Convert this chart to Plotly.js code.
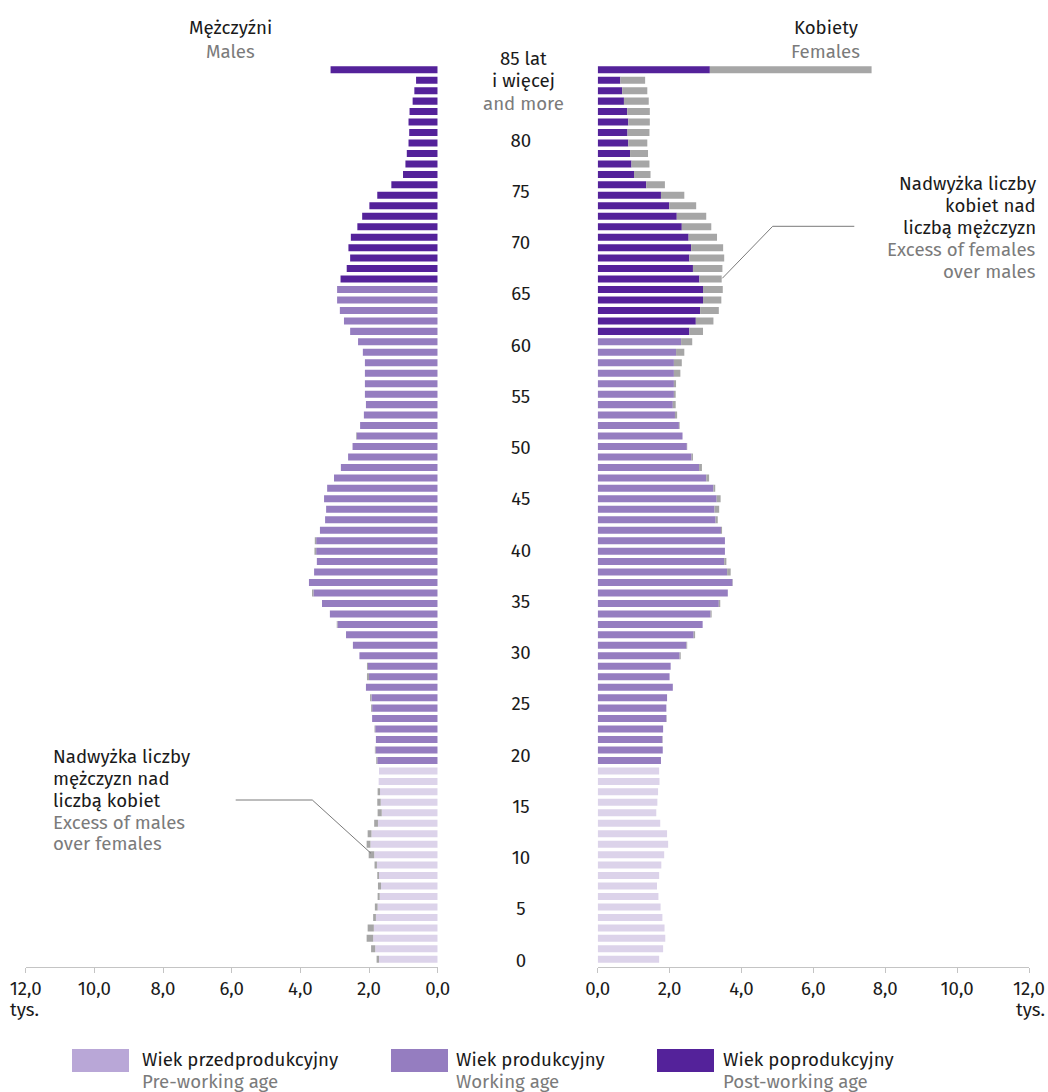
<!DOCTYPE html>
<html>
<head>
<meta charset="utf-8">
<script src="https://cdn.plot.ly/plotly-3.0.1.min.js"></script>
<style>html,body{margin:0;padding:0;background:#fff;}#chart{width:1048px;height:1092px;}</style>
</head>
<body>
<div id="chart"></div>
<script>
// ---------- DATA ----------
const ages = [0,1,2,3,4,5,6,7,8,9,10,11,12,13,14,15,16,17,18,19,20,21,22,23,24,25,26,27,28,29,
  30,31,32,33,34,35,36,37,38,39,40,41,42,43,44,45,46,47,48,49,50,51,52,53,54,55,56,57,58,59,
  60,61,62,63,64,65,66,67,68,69,70,71,72,73,74,75,76,77,78,79,80,81,82,83,84,85];

// thousands of persons, age 0 .. 85+ (last = 85 and more)
const males = [1.78,1.94,2.07,2.04,1.88,1.83,1.75,1.74,1.76,1.84,
  2.01,2.07,2.04,1.85,1.75,1.76,1.75,1.72,1.71,1.79,
  1.83,1.80,1.84,1.91,1.94,1.97,2.09,2.06,2.06,2.28,
  2.47,2.67,2.94,3.14,3.37,3.66,3.75,3.60,3.52,3.59,
  3.58,3.43,3.28,3.25,3.31,3.22,3.02,2.82,2.61,2.48,
  2.38,2.26,2.15,2.09,2.12,2.12,2.12,2.12,2.18,2.32,
  2.55,2.73,2.85,2.93,2.93,2.83,2.65,2.55,2.60,2.53,
  2.34,2.20,1.99,1.76,1.35,1.01,0.94,0.90,0.85,0.83,
  0.85,0.82,0.73,0.68,0.63,3.12];

const females = [1.71,1.82,1.88,1.86,1.80,1.75,1.69,1.65,1.71,1.77,
  1.85,1.96,1.93,1.74,1.63,1.66,1.68,1.72,1.71,1.76,
  1.81,1.81,1.82,1.92,1.91,1.93,2.09,2.00,2.03,2.31,
  2.49,2.71,2.92,3.17,3.41,3.62,3.76,3.70,3.58,3.54,
  3.54,3.46,3.34,3.38,3.42,3.27,3.10,2.90,2.65,2.49,
  2.36,2.28,2.21,2.17,2.17,2.18,2.30,2.34,2.41,2.63,
  2.93,3.22,3.37,3.44,3.48,3.45,3.47,3.52,3.49,3.32,
  3.16,3.02,2.74,2.41,1.87,1.47,1.44,1.40,1.38,1.44,
  1.45,1.45,1.42,1.38,1.32,7.62];

const ageTickVals = [0,5,10,15,20,25,30,35,40,45,50,55,60,65,70,75,80];
const ageTickText = ['0','5','10','15','20','25','30','35','40','45','50','55','60','65','70','75','80'];
const topAgeLabel = ['85 lat', 'i więcej', 'and more'];

const xTickVals = [0,2,4,6,8,10,12];
const unitLabel = 'tys.';

const titleMales = ['Mężczyźni', 'Males'];
const titleFemales = ['Kobiety', 'Females'];
const noteFemales = ['Nadwyżka liczby', 'kobiet nad', 'liczbą mężczyzn'];
const noteFemalesEn = ['Excess of females', 'over males'];
const noteMales = ['Nadwyżka liczby', 'mężczyzn nad', 'liczbą kobiet'];
const noteMalesEn = ['Excess of males', 'over females'];

const legendPl = ['Wiek przedprodukcyjny', 'Wiek produkcyjny', 'Wiek poprodukcyjny'];
const legendEn = ['Pre-working age', 'Working age', 'Post-working age'];

// age-group limits (last age of group)
const preWorkingLast = 18;
const maleWorkingLast = 64;
const femaleWorkingLast = 59;

// ---------- STYLE ----------
const barColors = {pre: '#dcd3ea', work: '#957dc0', post: '#54229a'};
const legendColors = ['#b9a7d7', '#957dc0', '#54229a'];
const excessColor = '#a6a6a6';
const black = '#1a1a1a', grey = '#7b7b7b';
const FONT = "'Fira Sans', 'Open Sans', sans-serif";
const FS = 18.67;
const W = 1048, H = 1092;
const px = x => x / W;
const py = y => 1 - y / H;

function groupColor(age, workLast) {
  if (age <= preWorkingLast) return barColors.pre;
  if (age <= workLast) return barColors.work;
  return barColors.post;
}

const common = males.map((m, i) => Math.min(m, females[i]));
const maleExcess = males.map((m, i) => Math.max(m - females[i], 0));
const femaleExcess = females.map((f, i) => Math.max(f - males[i], 0));

const traces = [
  {type: 'bar', orientation: 'h', y: ages, x: common, xaxis: 'x', yaxis: 'y',
   marker: {color: ages.map(a => groupColor(a, maleWorkingLast))}, hoverinfo: 'skip'},
  {type: 'bar', orientation: 'h', y: ages, x: maleExcess, base: common, xaxis: 'x', yaxis: 'y',
   marker: {color: excessColor}, hoverinfo: 'skip'},
  {type: 'bar', orientation: 'h', y: ages, x: common, xaxis: 'x2', yaxis: 'y',
   marker: {color: ages.map(a => groupColor(a, femaleWorkingLast))}, hoverinfo: 'skip'},
  {type: 'bar', orientation: 'h', y: ages, x: femaleExcess, base: common, xaxis: 'x2', yaxis: 'y',
   marker: {color: excessColor}, hoverinfo: 'skip'},
  {type: 'scatter', mode: 'text', x: ageTickVals.map(() => 0), y: ageTickVals, text: ageTickText,
   xaxis: 'x3', yaxis: 'y3', textposition: 'middle center',
   textfont: {family: FONT, size: FS, color: black}, hoverinfo: 'skip'}
];

const yDomain = [py(967), py(64.5)];
const xAxisCommon = {
  tickvals: xTickVals, tickformat: '.1f', ticks: 'outside', ticklen: 5, tickwidth: 1,
  tickcolor: '#c4c4c4', showline: true, linecolor: '#c4c4c4', linewidth: 1,
  showgrid: false, zeroline: false, anchor: 'y', fixedrange: true,
  tickfont: {family: FONT, size: FS, color: black}
};

const annotations = [];
function txt(text, x, y, color, xanchor) {
  annotations.push({text, x: px(x), y: py(y), xref: 'paper', yref: 'paper',
    xanchor: xanchor || 'center', yanchor: 'middle', showarrow: false,
    font: {family: FONT, size: FS, color}});
}
txt(titleMales[0], 230, 28, black);
txt(titleMales[1], 230, 51.5, grey);
txt(titleFemales[0], 825.5, 28, black);
txt(titleFemales[1], 825.5, 51.5, grey);

noteFemales.forEach((t, i) => txt(t, 1038, 183.5 + i * 22.2, black, 'right'));
noteFemalesEn.forEach((t, i) => txt(t, 1038, 250 + i * 22, grey, 'right'));
noteMales.forEach((t, i) => txt(t, 51, 757 + i * 21.8, black, 'left'));
noteMalesEn.forEach((t, i) => txt(t, 51, 822.5 + i * 21.8, grey, 'left'));

// 85+ label
topAgeLabel.forEach((t, i) => txt(t, 523, 59 + i * 22.5, i < 2 ? black : grey));

// units
txt(unitLabel, 8, 1010, black, 'left');
txt(unitLabel, 1047, 1010, black, 'right');

// legend
const swatchX = [72, 391, 657];
const legendTextX = [140, 454, 721];
const shapes = [];
legendPl.forEach((t, i) => {
  shapes.push({type: 'rect', xref: 'paper', yref: 'paper',
    x0: px(swatchX[i]), x1: px(swatchX[i] + 57), y0: py(1072), y1: py(1049),
    fillcolor: legendColors[i], line: {width: 0}});
  txt(t, legendTextX[i], 1059.5, black, 'left');
  txt(legendEn[i], legendTextX[i], 1082, grey, 'left');
});

// leader lines
shapes.push({type: 'path', xref: 'paper', yref: 'paper',
  path: `M ${px(854.3)} ${py(226.3)} L ${px(772.7)} ${py(226.3)} L ${px(722.3)} ${py(278.3)}`,
  line: {color: '#7a7a7a', width: 1}});
shapes.push({type: 'path', xref: 'paper', yref: 'paper',
  path: `M ${px(235.7)} ${py(800)} L ${px(312.3)} ${py(800)} L ${px(371)} ${py(853.3)}`,
  line: {color: '#7a7a7a', width: 1}});

const layout = {
  width: W, height: H,
  margin: {l: 0, r: 0, t: 0, b: 0},
  paper_bgcolor: '#ffffff', plot_bgcolor: 'rgba(0,0,0,0)',
  showlegend: false,
  barmode: 'overlay', bargap: 0.33,
  separators: ', ',
  font: {family: FONT, size: FS, color: black},
  xaxis: Object.assign({}, xAxisCommon, {domain: [px(25.7), px(437.7)], range: [12, 0]}),
  xaxis2: Object.assign({}, xAxisCommon, {domain: [px(597.7), px(1029)], range: [0, 12]}),
  xaxis3: {domain: [px(437.7), px(597.7)], range: [-1.04, 0.96], visible: false, anchor: 'y3', fixedrange: true},
  yaxis: {domain: yDomain, range: [-0.736, 85.5], visible: false, fixedrange: true, anchor: 'x'},
  yaxis3: {domain: yDomain, range: [-0.488, 87.56], visible: false, fixedrange: true, anchor: 'x3'},
  annotations, shapes
};

Plotly.newPlot('chart', traces, layout, {displayModeBar: false, staticPlot: true});
</script>
</body>
</html>
